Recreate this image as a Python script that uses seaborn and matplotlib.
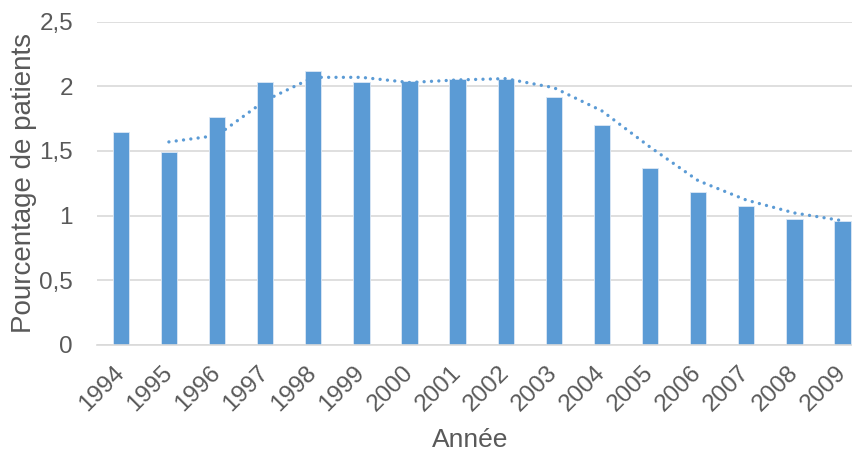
import matplotlib
matplotlib.use("Agg")
import matplotlib.pyplot as plt
import seaborn as sns
import pandas as pd

# Values
years = ['1994', '1995', '1996', '1997', '1998', '1999', '2000', '2001',
         '2002', '2003', '2004', '2005', '2006', '2007', '2008', '2009']
pct = [1.65, 1.49, 1.76, 2.03, 2.12, 2.03, 2.04, 2.06,
       2.06, 1.92, 1.70, 1.37, 1.18, 1.07, 0.97, 0.96]

# Dotted trend line (2-period moving average), starts at 1995
trend_years = ['1995', '1996', '1997', '1998', '1999', '2000', '2001', '2002',
               '2003', '2004', '2005', '2006', '2007', '2008', '2009']
trend = [1.57, 1.62, 1.89, 2.07, 2.07, 2.03, 2.05, 2.06,
         1.99, 1.81, 1.53, 1.27, 1.12, 1.02, 0.96]

yticks = [0, 0.5, 1, 1.5, 2, 2.5]
ytick_labels = ['0', '0,5', '1', '1,5', '2', '2,5']

blue = '#5B9BD5'
grey_txt = '#595959'

sns.set_style('white')
plt.rcParams['font.family'] = ['Liberation Sans', 'DejaVu Sans']

df = pd.DataFrame({'year': years, 'pct': pct})

fig = plt.figure(figsize=(8.53, 4.51), dpi=100)
ax = fig.add_axes([0.1134, 0.2357, 0.9025, 0.716])

sns.barplot(data=df, x='year', y='pct', color=blue, saturation=1,
            width=0.34, edgecolor='#DCE8F5', linewidth=0.6, ax=ax, zorder=2)

trend_x = [years.index(y) for y in trend_years]
ax.plot(trend_x, trend, color=blue, linewidth=2.4,
        linestyle=(0, (0.01, 2.2)), dash_capstyle='round', zorder=3)

ax.set_xlim(-0.5, 15.5)
ax.set_ylim(0, 2.5)
ax.set_yticks(yticks)
ax.set_yticklabels(ytick_labels)
ax.yaxis.grid(True, color='#D9D9D9', linewidth=1.2, zorder=0)
ax.set_axisbelow(True)

for s in ['top', 'right', 'left']:
    ax.spines[s].set_visible(False)
ax.spines['bottom'].set_color('#D9D9D9')
ax.spines['bottom'].set_linewidth(1.2)

ax.tick_params(axis='both', length=0, labelsize=17.5, labelcolor=grey_txt)
ax.tick_params(axis='y', pad=17)
ax.tick_params(axis='x', pad=18)
plt.setp(ax.get_xticklabels(), rotation=45, ha='right', va='center',
         rotation_mode='anchor')

ax.set_xlabel('Année', fontsize=19, color=grey_txt)
ax.set_ylabel('Pourcentage de patients', fontsize=20, color=grey_txt)
ax.xaxis.set_label_coords((470 - 96.7) / (866.5 - 96.7), -0.258)
ax.yaxis.set_label_coords(-0.077, 0.5)

fig.savefig('out.png', dpi=100)
